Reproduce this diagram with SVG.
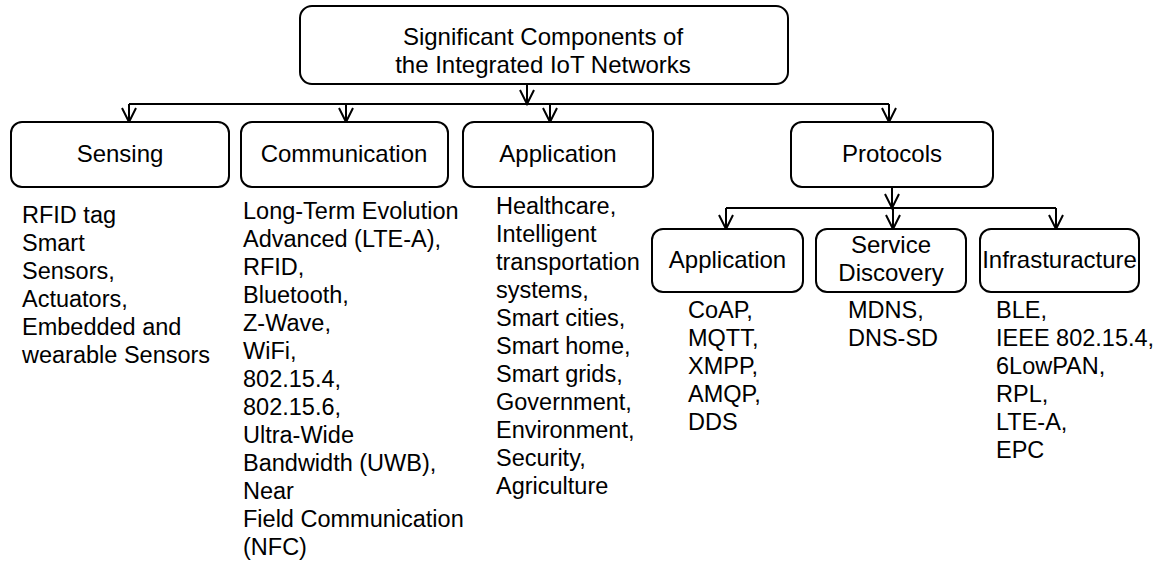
<svg xmlns="http://www.w3.org/2000/svg" width="1164" height="574" viewBox="0 0 1164 574">
<defs>
<style>
.box{fill:#fff;stroke:#000;stroke-width:2}
.lbl{font-family:"Liberation Sans",Arial,sans-serif;font-size:24px;fill:#000;text-anchor:middle}
.lst{font-family:"Liberation Sans",Arial,sans-serif;font-size:23.5px;fill:#000}
.con{fill:none;stroke:#000;stroke-width:2}
</style>
<marker id="arr" markerUnits="userSpaceOnUse" markerWidth="20" markerHeight="20" refX="0" refY="0" orient="auto" overflow="visible">
<path d="M-14,-7 L0,0 L-14,7" fill="none" stroke="#000" stroke-width="2"/>
</marker>
</defs>
<rect width="1164" height="574" fill="#fff"/>
<g id="connectors">
<path class="con" d="M527,84 L527,104" marker-end="url(#arr)"/>
<path class="con" d="M129,104 L889,104"/>
<path class="con" d="M129,104 L129,122" marker-end="url(#arr)"/>
<path class="con" d="M346,104 L346,122" marker-end="url(#arr)"/>
<path class="con" d="M550,104 L550,122" marker-end="url(#arr)"/>
<path class="con" d="M889,104 L889,122" marker-end="url(#arr)"/>
<path class="con" d="M892,187 L892,208" marker-end="url(#arr)"/>
<path class="con" d="M726,208 L1056,208"/>
<path class="con" d="M726,208 L726,229" marker-end="url(#arr)"/>
<path class="con" d="M893,208 L893,229" marker-end="url(#arr)"/>
<path class="con" d="M1056,208 L1056,229" marker-end="url(#arr)"/>
</g>
<g id="root">
<rect class="box" x="300" y="6" width="488" height="78" rx="12"/>
<text class="lbl" x="543" y="45">Significant Components of</text>
<text class="lbl" x="543" y="73">the Integrated IoT Networks</text>
</g>
<g id="sensing">
<rect class="box" x="11" y="122" width="218" height="65" rx="11"/>
<text class="lbl" x="120" y="162">Sensing</text>
</g>
<g id="communication">
<rect class="box" x="241" y="122" width="207" height="65" rx="11"/>
<text class="lbl" x="344" y="162">Communication</text>
</g>
<g id="application">
<rect class="box" x="463" y="122" width="190" height="65" rx="11"/>
<text class="lbl" x="558" y="162">Application</text>
</g>
<g id="protocols">
<rect class="box" x="791" y="122" width="202" height="65" rx="11"/>
<text class="lbl" x="892" y="162">Protocols</text>
</g>
<g id="proto-application">
<rect class="box" x="652" y="229" width="151" height="63" rx="11"/>
<text class="lbl" x="727.5" y="268">Application</text>
</g>
<g id="proto-service-discovery">
<rect class="box" x="816" y="229" width="150" height="63" rx="11"/>
<text class="lbl" x="891" y="253">Service</text>
<text class="lbl" x="891" y="281">Discovery</text>
</g>
<g id="proto-infrastructure">
<rect class="box" x="980" y="229" width="159" height="63" rx="11"/>
<text class="lbl" x="1059.5" y="268">Infrasturacture</text>
</g>
<g id="sensing-list">
<text class="lst" x="22" y="223">RFID tag</text>
<text class="lst" x="22" y="251">Smart</text>
<text class="lst" x="22" y="279">Sensors,</text>
<text class="lst" x="22" y="307">Actuators,</text>
<text class="lst" x="22" y="335">Embedded and</text>
<text class="lst" x="22" y="363">wearable Sensors</text>
</g>
<g id="communication-list">
<text class="lst" x="243" y="219">Long-Term Evolution</text>
<text class="lst" x="243" y="247">Advanced (LTE-A),</text>
<text class="lst" x="243" y="275">RFID,</text>
<text class="lst" x="243" y="303">Bluetooth,</text>
<text class="lst" x="243" y="331">Z-Wave,</text>
<text class="lst" x="243" y="359">WiFi,</text>
<text class="lst" x="243" y="387">802.15.4,</text>
<text class="lst" x="243" y="415">802.15.6,</text>
<text class="lst" x="243" y="443">Ultra-Wide</text>
<text class="lst" x="243" y="471">Bandwidth (UWB),</text>
<text class="lst" x="243" y="499">Near</text>
<text class="lst" x="243" y="527">Field Communication</text>
<text class="lst" x="243" y="555">(NFC)</text>
</g>
<g id="application-list">
<text class="lst" x="496" y="214">Healthcare,</text>
<text class="lst" x="496" y="242">Intelligent</text>
<text class="lst" x="496" y="270">transportation</text>
<text class="lst" x="496" y="298">systems,</text>
<text class="lst" x="496" y="326">Smart cities,</text>
<text class="lst" x="496" y="354">Smart home,</text>
<text class="lst" x="496" y="382">Smart grids,</text>
<text class="lst" x="496" y="410">Government,</text>
<text class="lst" x="496" y="438">Environment,</text>
<text class="lst" x="496" y="466">Security,</text>
<text class="lst" x="496" y="494">Agriculture</text>
</g>
<g id="proto-application-list">
<text class="lst" x="688" y="318">CoAP,</text>
<text class="lst" x="688" y="346">MQTT,</text>
<text class="lst" x="688" y="374">XMPP,</text>
<text class="lst" x="688" y="402">AMQP,</text>
<text class="lst" x="688" y="430">DDS</text>
</g>
<g id="proto-service-list">
<text class="lst" x="848" y="318">MDNS,</text>
<text class="lst" x="848" y="346">DNS-SD</text>
</g>
<g id="proto-infrastructure-list">
<text class="lst" x="996" y="318">BLE,</text>
<text class="lst" x="996" y="346">IEEE 802.15.4,</text>
<text class="lst" x="996" y="374">6LowPAN,</text>
<text class="lst" x="996" y="402">RPL,</text>
<text class="lst" x="996" y="430">LTE-A,</text>
<text class="lst" x="996" y="458">EPC</text>
</g>
</svg>
